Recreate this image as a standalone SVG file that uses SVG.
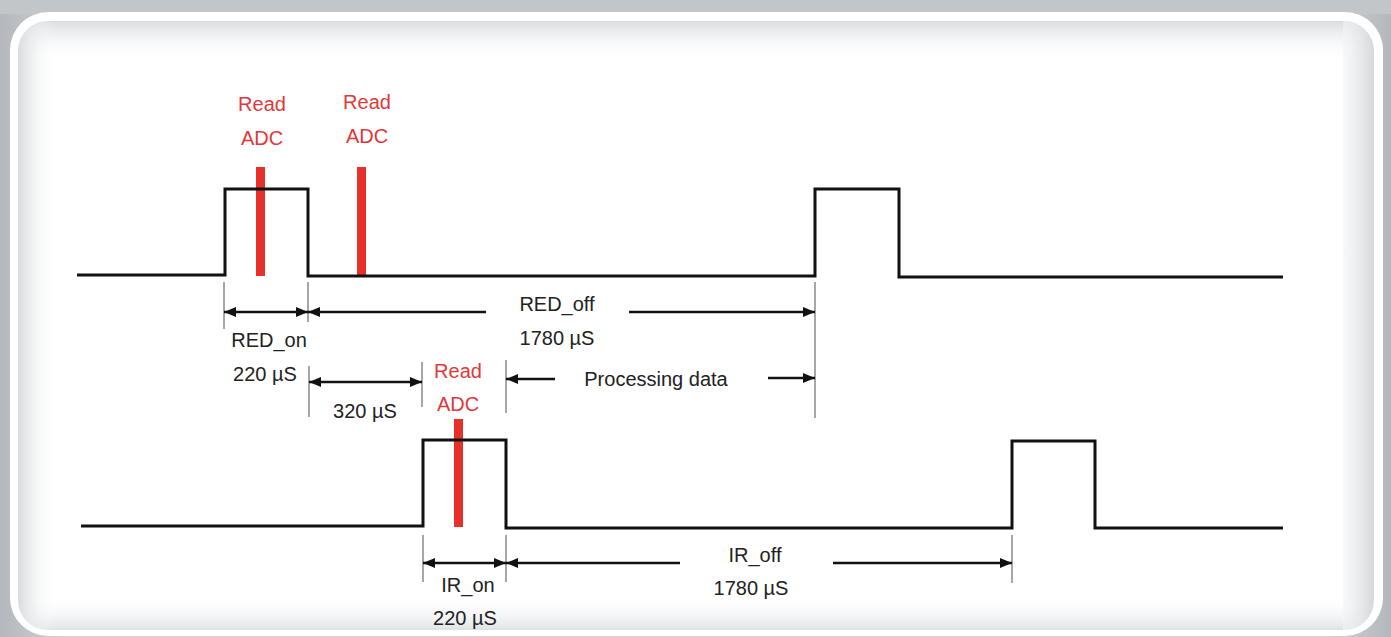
<svg xmlns="http://www.w3.org/2000/svg" width="1391" height="637" viewBox="0 0 1391 637">
  <defs>
    <style>
      .sig { fill: none; stroke: #111; stroke-width: 3; stroke-linejoin: miter; }
      .dim { stroke: #111; stroke-width: 2.5; fill: none; }
      .tick { stroke: #8a8a8a; stroke-width: 1.5; }
      .bar { fill: #e8302a; }
      .lbl { font-family: "Liberation Sans", Arial, sans-serif; font-size: 20px; fill: #222; text-anchor: middle; }
      .red { fill: #e2383a; }
    </style>
    <marker id="ah" viewBox="0 0 12 10" refX="12" refY="5" markerWidth="12" markerHeight="10" markerUnits="userSpaceOnUse" orient="auto-start-reverse">
      <path d="M0,0 L12,5 L0,10 z" fill="#111"/>
    </marker>
    <linearGradient id="bgG" x1="0" y1="0" x2="1" y2="0">
      <stop offset="0" stop-color="#b4b7bb"/>
      <stop offset="0.05" stop-color="#d2d5d8"/>
      <stop offset="0.95" stop-color="#d2d5d8"/>
      <stop offset="1" stop-color="#b4b7bb"/>
    </linearGradient>
    <linearGradient id="topG" x1="0" y1="0" x2="0" y2="1">
      <stop offset="0" stop-color="#d9dcdf"/>
      <stop offset="1" stop-color="#ffffff" stop-opacity="0"/>
    </linearGradient>
    <linearGradient id="botG" x1="0" y1="1" x2="0" y2="0">
      <stop offset="0" stop-color="#dfe2e5"/>
      <stop offset="1" stop-color="#ffffff" stop-opacity="0"/>
    </linearGradient>
    <linearGradient id="leftG" x1="0" y1="0" x2="1" y2="0">
      <stop offset="0" stop-color="#d8dbde"/>
      <stop offset="1" stop-color="#ffffff" stop-opacity="0"/>
    </linearGradient>
    <linearGradient id="rightG" x1="1" y1="0" x2="0" y2="0">
      <stop offset="0" stop-color="#d5d8db"/>
      <stop offset="1" stop-color="#f4f5f6" stop-opacity="0.6"/>
    </linearGradient>
    <clipPath id="panelClip">
      <rect x="18" y="21" width="1356" height="609" rx="30"/>
    </clipPath>
  </defs>

  <g id="frame">
    <rect x="0" y="0" width="1391" height="637" fill="url(#bgG)"/>
    <rect x="0" y="0" width="1391" height="14" fill="#c3c6c9"/>
    <rect x="10" y="12" width="1373" height="624" rx="38" fill="#ffffff"/>
    <g clip-path="url(#panelClip)">
      <rect x="18" y="21" width="1356" height="609" fill="#ffffff"/>
      <rect x="18" y="21" width="1356" height="40" fill="url(#topG)"/>
      <rect x="18" y="596" width="1356" height="34" fill="url(#botG)"/>
      <rect x="18" y="21" width="38" height="609" fill="url(#leftG)"/>
      <rect x="1343" y="21" width="31" height="609" fill="url(#rightG)"/>
    </g>
  </g>

  <g id="adc-bars">
    <rect class="bar" x="256" y="167" width="9" height="109"/>
    <rect class="bar" x="357" y="167" width="9" height="109"/>
    <rect class="bar" x="454" y="419" width="9" height="108"/>
  </g>

  <g id="red-signal">
    <path class="sig" d="M77,275 H225 V189 H308 V276 H815 V189 H899 V277 H1283"/>
  </g>

  <g id="ir-signal">
    <path class="sig" d="M81,526 H423 V440 H506 V528 H1012 V441 H1095 V528 H1283"/>
  </g>

  <g id="connectors">
    <line class="tick" x1="224" y1="282" x2="224" y2="329"/>
    <line class="tick" x1="308" y1="282" x2="308" y2="322"/>
    <line class="tick" x1="815" y1="282" x2="815" y2="418"/>
    <line class="tick" x1="309" y1="366" x2="309" y2="417"/>
    <line class="tick" x1="422" y1="362" x2="422" y2="407"/>
    <line class="tick" x1="506" y1="360" x2="506" y2="413"/>
    <line class="tick" x1="423" y1="535" x2="423" y2="582"/>
    <line class="tick" x1="506" y1="535" x2="506" y2="582"/>
    <line class="tick" x1="1012" y1="535" x2="1012" y2="583"/>

    <line class="dim" x1="224" y1="312" x2="308" y2="312" marker-start="url(#ah)" marker-end="url(#ah)"/>
    <line class="dim" x1="486" y1="312" x2="308" y2="312" marker-end="url(#ah)"/>
    <line class="dim" x1="629" y1="312" x2="815" y2="312" marker-end="url(#ah)"/>
    <line class="dim" x1="309" y1="382" x2="422" y2="382" marker-start="url(#ah)" marker-end="url(#ah)"/>
    <line class="dim" x1="555" y1="379" x2="506" y2="379" marker-end="url(#ah)"/>
    <line class="dim" x1="768" y1="378" x2="815" y2="378" marker-end="url(#ah)"/>
    <line class="dim" x1="423" y1="563" x2="506" y2="563" marker-start="url(#ah)" marker-end="url(#ah)"/>
    <line class="dim" x1="680" y1="563" x2="506" y2="563" marker-end="url(#ah)"/>
    <line class="dim" x1="833" y1="563" x2="1012" y2="563" marker-end="url(#ah)"/>
  </g>

  <g id="labels">
    <text class="lbl red" x="262" y="111">Read</text>
    <text class="lbl red" x="262" y="145">ADC</text>
    <text class="lbl red" x="367" y="109">Read</text>
    <text class="lbl red" x="367" y="143">ADC</text>
    <text class="lbl red" x="458" y="378">Read</text>
    <text class="lbl red" x="458" y="411">ADC</text>

    <text class="lbl" x="269" y="347">RED_on</text>
    <text class="lbl" x="265" y="381">220 µS</text>
    <text class="lbl" x="365" y="418">320 µS</text>
    <text class="lbl" x="557" y="311">RED_off</text>
    <text class="lbl" x="557" y="345">1780 µS</text>
    <text class="lbl" x="656" y="386">Processing data</text>

    <text class="lbl" x="468" y="592">IR_on</text>
    <text class="lbl" x="465" y="625">220 µS</text>
    <text class="lbl" x="755" y="562">IR_off</text>
    <text class="lbl" x="751" y="595">1780 µS</text>
  </g>
</svg>
